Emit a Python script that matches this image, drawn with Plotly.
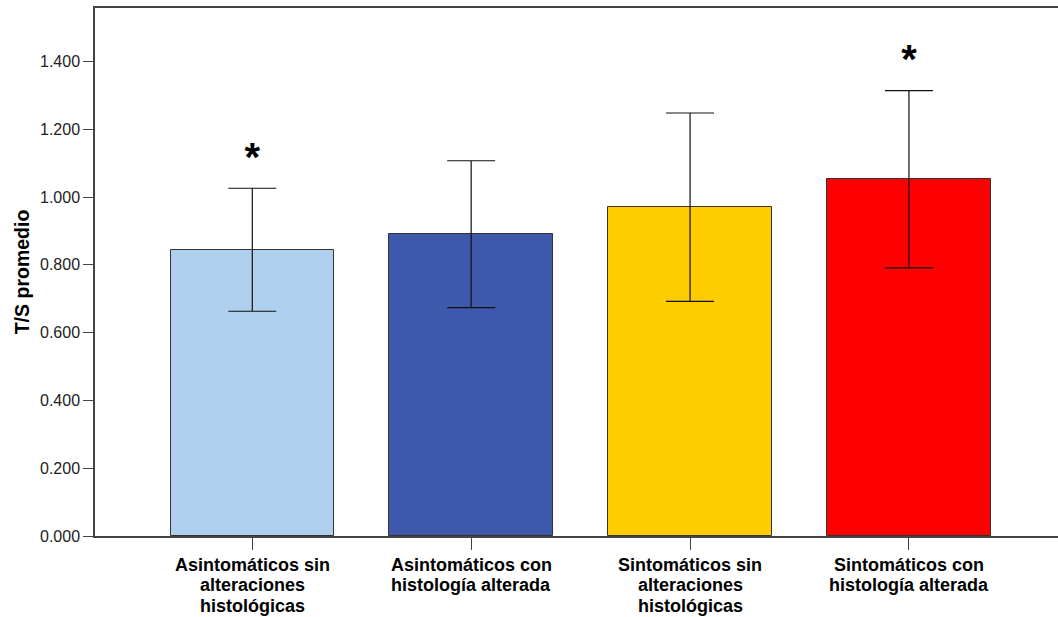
import plotly.graph_objects as go

# ---- data ----
categories = [
    "Asintomáticos sin alteraciones histológicas",
    "Asintomáticos con histología alterada",
    "Sintomáticos sin alteraciones histológicas",
    "Sintomáticos con histología alterada",
]
label_lines = [
    ["Asintomáticos sin", "alteraciones", "histológicas"],
    ["Asintomáticos con", "histología alterada"],
    ["Sintomáticos sin", "alteraciones", "histológicas"],
    ["Sintomáticos con", "histología alterada"],
]
means = [0.845, 0.890, 0.970, 1.052]
upper = [1.026, 1.107, 1.248, 1.314]
lower = [0.663, 0.674, 0.692, 0.791]
significance = ["*", "", "", "*"]
colors = ["#AECFEE", "#3E58AC", "#FFCC00", "#FF0000"]
y_ticks = [0.0, 0.2, 0.4, 0.6, 0.8, 1.0, 1.2, 1.4]
y_ticklabels = ["0.000", "0.200", "0.400", "0.600", "0.800", "1.000", "1.200", "1.400"]

err_plus = [u - m for u, m in zip(upper, means)]
err_minus = [m - l for m, l in zip(means, lower)]
xpos = list(range(len(categories)))

FONT = "Liberation Sans, Arial, sans-serif"
fig = go.Figure()
fig.add_trace(go.Bar(
    x=xpos, y=means, width=0.747,
    marker=dict(color=colors, line=dict(color="#333333", width=1)),
    error_y=dict(type="data", symmetric=False, array=err_plus, arrayminus=err_minus,
                 color="#111111", thickness=1.2, width=24),
    hoverinfo="skip", showlegend=False,
))
fig.add_trace(go.Scatter(
    x=xpos, y=[u + 0.08 for u in upper], mode="text",
    text=["<b>" + s + "</b>" if s else "" for s in significance],
    textposition="middle center",
    textfont=dict(family=FONT, size=40, color="#000000"),
    hoverinfo="skip", showlegend=False,
))

for i, lines in enumerate(label_lines):
    for j, line in enumerate(lines):
        fig.add_annotation(
            x=xpos[i], xref="x", y=0, yref="paper", yanchor="top",
            yshift=-17 - 20.3 * j,
            text="<b>" + line + "</b>", showarrow=False,
            font=dict(family=FONT, size=18, color="#000000"),
        )

fig.update_layout(
    width=1058, height=617,
    margin=dict(l=95, r=0, t=8, b=81),
    paper_bgcolor="white", plot_bgcolor="white",
    font=dict(family=FONT),
    bargap=0,
)
fig.update_xaxes(
    range=[-0.7186, 3.681], tickvals=xpos, ticktext=[""] * len(xpos),
    showgrid=False, zeroline=False,
    showline=True, linecolor="#444444", linewidth=1.5, mirror=True,
    ticks="outside", ticklen=12, tickcolor="#444444", tickwidth=1,
)
fig.update_yaxes(
    range=[0, 1.5577], tickvals=y_ticks, ticktext=y_ticklabels,
    showgrid=False, zeroline=False,
    showline=True, linecolor="#444444", linewidth=1.5,
    ticks="outside", ticklen=10, tickcolor="#444444", tickwidth=1,
    tickfont=dict(family=FONT, size=16, color="#222222"),
    title=dict(text="<b>T/S promedio</b>", font=dict(family=FONT, size=19.5, color="#000000"), standoff=5),
)
fig.write_html("out.html", config={"displayModeBar": False},
               post_script="document.body.style.margin='0px';")
